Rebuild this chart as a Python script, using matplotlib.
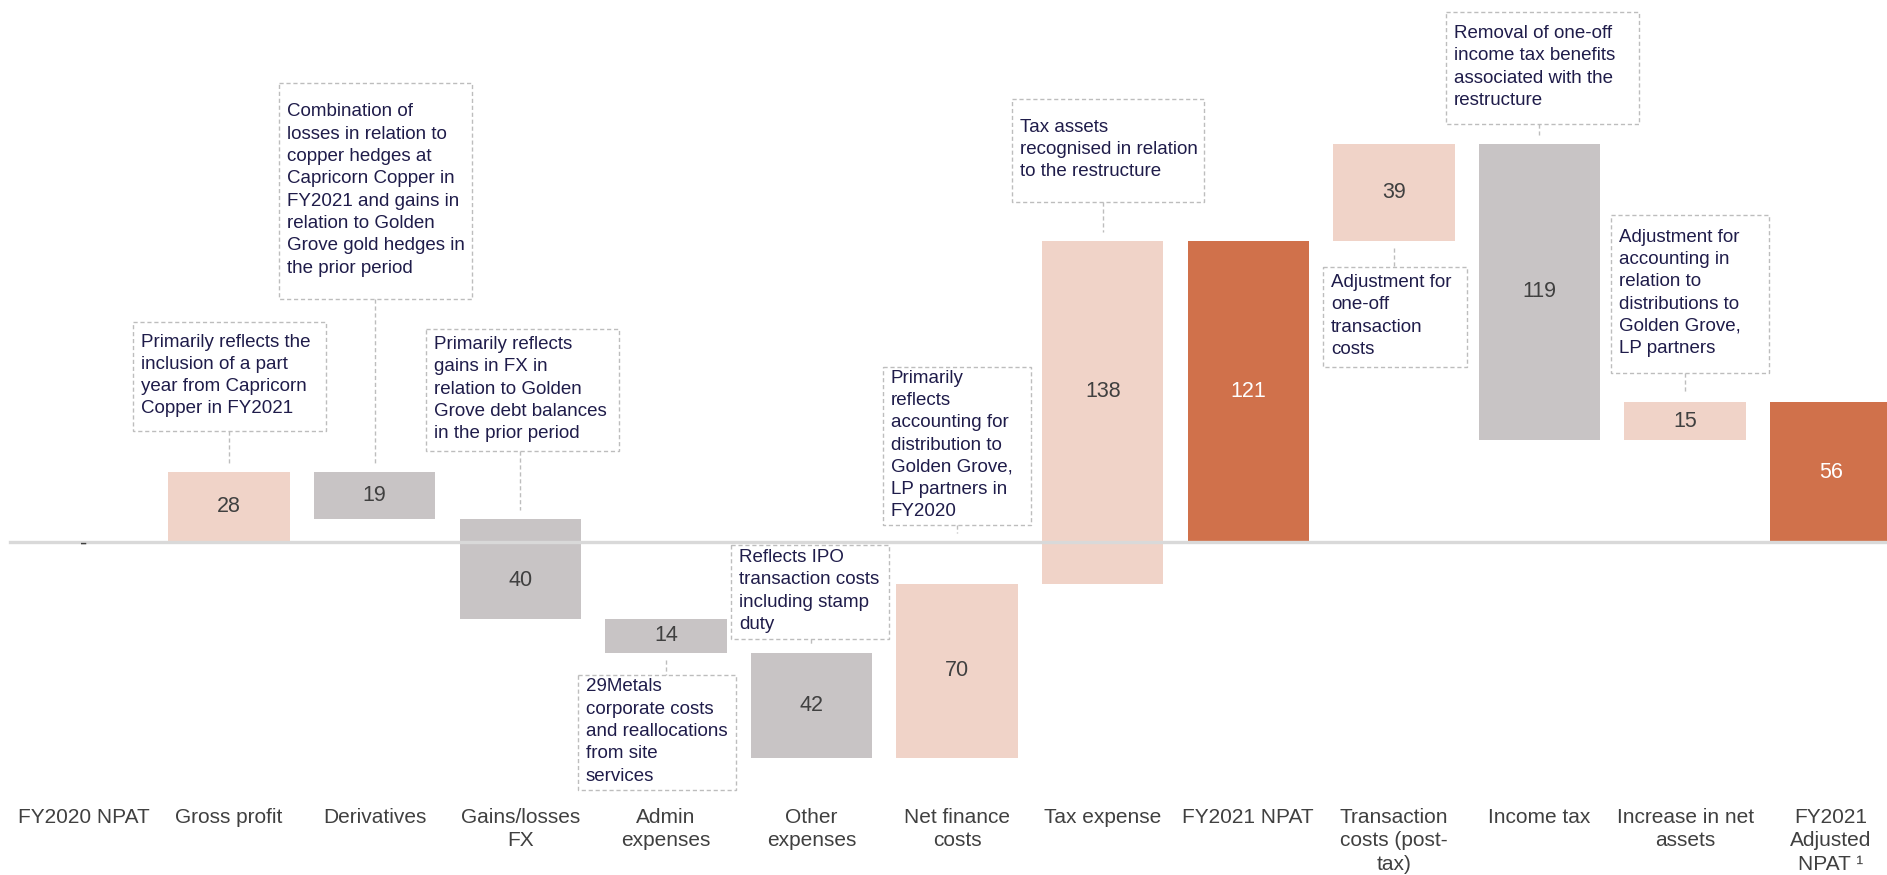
import matplotlib.pyplot as plt
from matplotlib.patches import Rectangle

plt.rcParams["font.family"] = ["Liberation Sans", "DejaVu Sans"]

categories = [
    "FY2020 NPAT", "Gross profit", "Derivatives", "Gains/losses\nFX",
    "Admin\nexpenses", "Other\nexpenses", "Net finance\ncosts", "Tax expense",
    "FY2021 NPAT", "Transaction\ncosts (post-\ntax)", "Income tax",
    "Increase in net\nassets", "FY2021\nAdjusted\nNPAT \u00b9",
]
kinds = ["total", "step", "step", "step", "step", "step", "step", "step",
         "total", "step", "step", "step", "total"]
# starting total given, later totals are the running sum
changes = [0, 28, -19, -40, -14, -42, 70, 138, None, 39, -119, 15, None]

notes = {
    1: "Primarily reflects the\ninclusion of a part\nyear from Capricorn\nCopper in FY2021",
    2: "Combination of\nlosses in relation to\ncopper hedges at\nCapricorn Copper in\n"
       "FY2021 and gains in\nrelation to Golden\nGrove gold hedges in\nthe prior period",
    3: "Primarily reflects\ngains in FX in\nrelation to Golden\nGrove debt balances\nin the prior period",
    4: "29Metals\ncorporate costs\nand reallocations\nfrom site\nservices",
    5: "Reflects IPO\ntransaction costs\nincluding stamp\nduty",
    6: "Primarily\nreflects\naccounting for\ndistribution to\nGolden Grove,\nLP partners in\nFY2020",
    7: "Tax assets\nrecognised in relation\nto the restructure",
    9: "Adjustment for\none-off\ntransaction\ncosts",
    10: "Removal of one-off\nincome tax benefits\nassociated with the\nrestructure",
    11: "Adjustment for\naccounting in\nrelation to\ndistributions to\nGolden Grove,\nLP partners",
}

# note box layout in figure pixels (left, top, right, bottom)
note_boxes = {
    1: (133, 322, 326, 431),
    2: (279, 83, 472, 299),
    3: (426, 329, 619, 451),
    4: (578, 675, 736, 790),
    5: (731, 545, 889, 639),
    6: (883, 367, 1031, 525),
    7: (1012, 99, 1204, 202),
    9: (1323, 267, 1467, 367),
    10: (1446, 12, 1639, 124),
    11: (1611, 215, 1769, 373),
}

PEACH = "#F0D3C8"
GREY = "#C8C4C5"
ORANGE = "#D0714B"
NAVY = "#1F1C4A"
LABEL = "#404040"
DASH = "#BDBDBD"

W, H = 1887, 875
fig = plt.figure(figsize=(W / 100, H / 100), dpi=100)
ax = fig.add_axes([0, 0, 1, 1])
ax.axis("off")
x0, dx = 83.5, 145.6
ax.set_xlim(-x0 / dx, (W - x0) / dx)
base, ppu = 541.6, 2.484
ax.set_ylim(-(H - base) / ppu, base / ppu)

# waterfall
running = 0
bottoms, heights, colors, labels = [], [], [], []
for kind, ch in zip(kinds, changes):
    if kind == "total":
        if ch is not None:
            running = ch
        bottoms.append(0)
        heights.append(running)
        colors.append(ORANGE)
        labels.append(str(running) if running else "-")
    else:
        bottoms.append(running if ch >= 0 else running + ch)
        heights.append(abs(ch))
        colors.append(PEACH if ch >= 0 else GREY)
        labels.append(str(abs(ch)))
        running += ch

xs = list(range(len(categories)))
ax.bar(xs, heights, bottom=bottoms, width=0.835, color=colors, zorder=2)
ax.axhline(0, xmin=10 / W, xmax=1, color="#D9D9D9", lw=2.4, zorder=3)

for i, (b, h, lab, c) in enumerate(zip(bottoms, heights, labels, colors)):
    tc = "white" if c == ORANGE and h else LABEL
    lo, hi = b, b + h
    if lo < 0 < hi:
        # bar straddles the axis: label the larger part
        ymid = hi / 2 if hi >= -lo else lo / 2
    else:
        ymid = (lo + hi) / 2
    off = -2 if h == 0 else 0
    ax.annotate(lab, (i, ymid), xytext=(0, off), textcoords="offset points",
                ha="center", va="center", fontsize=15.5, color=tc, zorder=4)

for i, cat in enumerate(categories):
    ax.text(i, 1 - 808 / H, cat, transform=ax.get_xaxis_transform(),
            ha="center", va="top", fontsize=15, color=LABEL, linespacing=1.3)

# notes overlay in pixel coordinates
ov = fig.add_axes([0, 0, 1, 1])
ov.axis("off")
ov.set_xlim(0, W)
ov.set_ylim(H, 0)

def to_px(x, y):
    disp = ax.transData.transform((x, y))
    return ov.transData.inverted().transform(disp)

for i, note in notes.items():
    l, t, r, b = note_boxes[i]
    ov.add_patch(Rectangle((l, t), r - l, b - t, fill=False, edgecolor=DASH,
                           lw=1, linestyle=(0, (3, 2))))
    ov.text(l + 8, (t + b) / 2 - 1, note, ha="left", va="center",
            fontsize=13.5, color=NAVY, linespacing=1.41)
    lo, hi = bottoms[i], bottoms[i] + heights[i]
    cx, top_px = to_px(i, hi)
    _, bot_px = to_px(i, lo)
    _, zero_px = to_px(i, 0)
    if b < top_px:  # box above the bar
        target = top_px
        if hi < 0 and b < zero_px:
            target = zero_px
        ov.plot([cx, cx], [b, target - 9], color=DASH, lw=1, linestyle=(0, (3, 2)))
    else:  # box below the bar
        ov.plot([cx, cx], [bot_px + 7, t], color=DASH, lw=1, linestyle=(0, (3, 2)))

fig.savefig("out.png", dpi=100)
